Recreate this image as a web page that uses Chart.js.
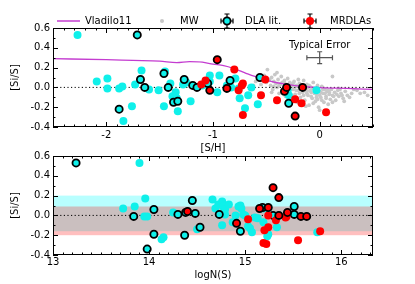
<!DOCTYPE html>
<html><head><meta charset="utf-8">
<script src="https://cdn.jsdelivr.net/npm/chart.js@4/dist/chart.umd.min.js"></script>
<style>
html,body{margin:0;padding:0;background:#fff;width:415px;height:284px;overflow:hidden;}
#c1{position:absolute;left:0;top:0;}
#c2{position:absolute;left:0;top:140px;}
</style>
</head><body>
<canvas id="c1" width="415" height="154"></canvas>
<canvas id="c2" width="415" height="144"></canvas>
<script>
// ---------- DATA ----------
const topXTicks = [-2, -1, 0];
const botXTicks = [13, 14, 15, 16];
const yTicks = [-0.4, -0.2, 0.0, 0.2, 0.4, 0.6];

const vladX = [-2.5, -2.0, -1.75, -1.5, -1.34, -1.22, -1.1, -1.0, -0.9, -0.81, -0.69, -0.56, -0.4, -0.3, -0.19, -0.1, 0.0, 0.25, 0.5];
const vladY = [0.29, 0.28, 0.272, 0.265, 0.25, 0.26, 0.255, 0.235, 0.22, 0.193, 0.142, 0.092, 0.047, 0.03, 0.014, 0.006, -0.003, -0.01, -0.02];

const mwSH = [-0.62,-0.60,-0.55,-0.55,-0.52,-0.50,-0.49,-0.47,-0.46,-0.45,-0.45,-0.44,-0.43,-0.42,-0.41,-0.40,-0.40,-0.39,-0.38,-0.37,-0.36,-0.35,-0.35,-0.34,-0.33,-0.32,-0.31,-0.30,-0.30,-0.29,-0.28,-0.28,-0.27,-0.26,-0.25,-0.25,-0.24,-0.23,-0.22,-0.22,-0.21,-0.20,-0.20,-0.19,-0.18,-0.18,-0.17,-0.16,-0.15,-0.15,-0.14,-0.13,-0.13,-0.12,-0.12,-0.11,-0.10,-0.10,-0.09,-0.08,-0.08,-0.07,-0.06,-0.06,-0.05,-0.05,-0.04,-0.03,-0.03,-0.02,-0.01,0.00,0.00,0.00,0.01,0.02,0.02,0.03,0.04,0.05,0.05,0.06,0.07,0.08,0.08,0.09,0.10,0.11,0.12,0.12,0.12,0.14,0.15,0.17,0.18,0.18,0.20,0.22,0.23,0.24,0.26,0.30,0.35,0.42,0.45,
  -0.48,-0.43,-0.38,-0.33,-0.31,-0.27,-0.24,-0.21,-0.19,-0.16,-0.14,-0.11,-0.09,-0.07,-0.04,-0.02,0.01,0.03,0.06,0.09,0.13,0.16,0.19,0.21,0.28,0.32,0.38,-0.26,-0.12,0.04];
const mwSiS = [0.02,0.06,0.03,0.10,0.12,0.05,0.18,0.08,0.02,0.10,-0.05,-0.02,0.06,0.13,0.04,0.00,0.15,0.08,-0.06,0.03,0.11,0.05,-0.05,-0.01,0.07,-0.09,0.03,0.09,-0.02,-0.04,0.05,-0.16,-0.12,0.01,-0.02,0.04,0.06,-0.07,0.02,-0.03,-0.15,-0.03,0.08,0.04,-0.10,0.03,0.00,-0.05,0.07,-0.08,-0.13,-0.02,-0.19,0.03,-0.04,-0.08,-0.18,0.02,0.01,-0.05,-0.09,-0.11,0.05,-0.16,-0.02,-0.06,-0.14,-0.07,-0.10,0.02,-0.20,-0.04,-0.08,-0.23,-0.10,0.01,-0.13,-0.06,-0.15,-0.02,-0.06,-0.09,-0.04,-0.17,-0.03,-0.07,-0.12,-0.02,-0.08,-0.15,0.11,-0.05,-0.13,-0.03,-0.09,-0.01,-0.06,-0.11,-0.14,-0.04,-0.08,-0.06,-0.03,-0.05,-0.08,
  0.07,0.01,0.02,0.04,-0.06,0.03,-0.01,0.01,-0.06,0.02,-0.03,0.00,-0.03,-0.01,-0.04,-0.12,-0.05,-0.02,-0.11,-0.05,-0.09,-0.07,-0.02,-0.08,-0.10,-0.02,-0.06,-0.08,-0.06,-0.01];

// DLA literature, no edge (top: [S/H] vs [Si/S])
const dlaSH = [-2.27,-2.09,-1.99,-1.99,-1.88,-1.85,-1.84,-1.73,-1.67,-1.76,-1.60,-1.51,-1.46,-1.45,-1.40,-1.38,-1.35,-1.34,-1.33,-1.28,-1.25,-1.21,-1.10,-1.03,-1.03,-0.96,-0.94,-0.87,-0.83,-0.79,-0.76,-0.75,-0.70,-0.67,-0.64,-0.58,-0.30,-0.29,-0.03];
const dlaSiS = [0.53,0.06,0.09,-0.01,-0.01,0.01,-0.34,0.03,0.17,-0.19,-0.02,-0.03,-0.19,0.16,0.04,-0.09,-0.05,-0.11,-0.24,0.03,0.05,-0.14,0.02,0.12,0.06,-0.05,0.12,0.02,0.00,0.09,-0.01,-0.11,-0.21,-0.08,0.00,-0.17,-0.03,-0.08,-0.03];
// DLA literature, black edge
const dlaeSH = [-1.71,-1.88,-1.68,-1.64,-1.46,-1.42,-1.37,-1.33,-1.27,-1.19,-1.15,-1.05,-0.84,-0.56,-0.29];
const dlaeSiS = [0.53,-0.22,0.08,0.00,0.14,0.00,-0.15,-0.14,0.08,0.02,0.00,0.04,0.07,0.10,-0.16];
// MRDLAs, no edge
const mrSH = [-1.11,-1.07,-0.80,-0.76,-0.73,-0.72,-0.72,-0.55,-0.51,-0.40,-0.23,-0.17,0.06];
const mrSiS = [0.03,0.07,0.18,-0.03,0.02,0.04,-0.28,-0.08,0.08,-0.13,-0.12,-0.16,-0.25];
// MRDLAs, black edge
const mreSH = [-1.03,-0.96,-0.87,-0.33,-0.31,-0.23,-0.16];
const mreSiS = [-0.03,0.28,-0.01,-0.04,0.00,-0.29,0.00];

// bottom panel: logN(S) vs [Si/S]
const dlaN = [13.90,13.96,13.73,13.85,13.95,13.98,14.13,14.15,14.25,14.50,14.66,14.69,14.72,14.76,14.77,14.79,14.83,14.76,14.79,14.87,14.93,14.96,14.95,14.98,15.05,15.07,15.03,15.10,15.19,15.19,15.23,15.24,15.33,15.75,14.90,15.00,15.13];
const dlaNSiS = [0.53,0.17,0.07,0.09,-0.01,-0.01,-0.24,-0.22,0.03,-0.14,0.16,0.07,0.11,0.14,0.09,0.06,0.11,-0.10,0.01,-0.07,0.09,0.07,0.10,0.01,-0.13,-0.17,-0.11,-0.02,0.07,-0.07,-0.21,-0.19,-0.12,-0.17,0.00,0.00,-0.03];
const dlaeN = [13.24,13.84,14.05,14.05,13.98,14.30,14.37,14.38,14.45,14.48,14.53,14.73,14.95,15.18,15.29,15.51,15.51];
const dlaeNSiS = [0.53,-0.01,0.06,-0.19,-0.34,0.01,-0.20,0.03,0.15,0.02,-0.12,0.01,-0.16,0.08,0.00,0.09,0.01];
const mrN = [15.03,15.24,15.32,15.42,15.43,15.20,15.24,15.19,15.22,15.55,15.78];
const mrNSiS = [-0.04,0.00,-0.05,-0.02,-0.01,-0.15,-0.12,-0.28,-0.29,-0.25,-0.16];
const mreN = [14.40,14.91,15.15,15.24,15.29,15.35,15.35,15.44,15.58,15.64];
const mreNSiS = [0.04,-0.08,0.07,0.08,0.28,0.18,0.00,0.03,-0.01,-0.01];

// shaded bands (bottom) : [low, high]
const dlaBand = [-0.16, 0.20];
const mrBand = [-0.20, 0.09];

// typical error
const errCenter = [0.0, 0.30];
const errSize = [0.12, 0.06];
const errLabelY = 0.42;

const legendLabels = ['Vladilo11', 'MW', 'DLA lit.', 'MRDLAs'];

// ---------- HELPERS ----------
const zip = (xs, ys) => xs.map((v, i) => ({x: v, y: ys[i]}));
const CYAN = '#0FF0EA', RED = '#FF0000', GRAY = '#C8C8C8', MAG = '#C43CD0';
Chart.defaults.font.family = 'DejaVu Sans';
Chart.defaults.font.size = 10;
Chart.defaults.color = '#000';

function fmtY(v){ return (v < 0 ? '-' : '') + Math.abs(v).toFixed(1); }

function frameTicksPlugin(xMinor, yMinor){
  return {
    id: 'frameTicks',
    afterDatasetsDraw(chart){
      const {ctx, chartArea: a, scales: {x, y}} = chart;
      ctx.save();
      ctx.strokeStyle = '#000'; ctx.lineWidth = 1;
      ctx.beginPath();
      const vx = (v, len) => { const p = Math.round(x.getPixelForValue(v)) + 0.5;
        ctx.moveTo(p, a.top); ctx.lineTo(p, a.top + len); ctx.moveTo(p, a.bottom); ctx.lineTo(p, a.bottom - len); };
      const vy = (v, len) => { const p = Math.round(y.getPixelForValue(v)) + 0.5;
        ctx.moveTo(a.left, p); ctx.lineTo(a.left + len, p); ctx.moveTo(a.right, p); ctx.lineTo(a.right - len, p); };
      for (let k = Math.ceil(x.min / xMinor - 1e-6); k * xMinor <= x.max + 1e-9; k++) vx(k * xMinor, 2.5);
      for (let k = Math.ceil(y.min / yMinor - 1e-6); k * yMinor <= y.max + 1e-9; k++) vy(k * yMinor, 2.5);
      x.ticks.forEach(t => vx(t.value, 5));
      y.ticks.forEach(t => vy(t.value, 5));
      ctx.stroke();
      ctx.strokeRect(Math.round(a.left) + 0.5, Math.round(a.top) + 0.5, Math.round(a.right - a.left) - 1, Math.round(a.bottom - a.top) - 1);
      ctx.restore();
    }
  };
}

function errMarker(ctx, cx, cy, fill, edge){
  ctx.save();
  ctx.strokeStyle = '#000'; ctx.lineWidth = 1.2;
  ctx.beginPath();
  ctx.moveTo(cx - 6, cy); ctx.lineTo(cx + 6, cy);
  ctx.moveTo(cx - 6, cy - 2.5); ctx.lineTo(cx - 6, cy + 2.5);
  ctx.moveTo(cx + 6, cy - 2.5); ctx.lineTo(cx + 6, cy + 2.5);
  ctx.moveTo(cx, cy - 7); ctx.lineTo(cx, cy + 7);
  ctx.moveTo(cx - 2.5, cy - 7); ctx.lineTo(cx + 2.5, cy - 7);
  ctx.moveTo(cx - 2.5, cy + 7); ctx.lineTo(cx + 2.5, cy + 7);
  ctx.stroke();
  ctx.beginPath(); ctx.arc(cx, cy, edge ? 3.6 : 4, 0, Math.PI * 2);
  ctx.fillStyle = fill; ctx.fill();
  if (edge){ ctx.lineWidth = 1.8; ctx.stroke(); }
  ctx.restore();
}

const legendPlugin = {
  id: 'customLegend',
  afterDraw(chart){
    const ctx = chart.ctx; const y = 21;
    ctx.save();
    ctx.font = '10px "DejaVu Sans"'; ctx.fillStyle = '#000'; ctx.textBaseline = 'middle'; ctx.textAlign = 'left';
    ctx.strokeStyle = MAG; ctx.lineWidth = 1.5;
    ctx.beginPath(); ctx.moveTo(57, y); ctx.lineTo(80, y); ctx.stroke();
    ctx.fillText(legendLabels[0], 85, y);
    ctx.fillStyle = GRAY; ctx.beginPath(); ctx.arc(162, y, 2, 0, Math.PI * 2); ctx.fill();
    ctx.fillStyle = '#000'; ctx.fillText(legendLabels[1], 180, y);
    errMarker(ctx, 227, y, CYAN, true);
    ctx.fillStyle = '#000'; ctx.fillText(legendLabels[2], 245, y);
    errMarker(ctx, 310, y, RED, false);
    ctx.fillStyle = '#000'; ctx.fillText(legendLabels[3], 330, y);
    ctx.restore();
  }
};

const typicalErrorPlugin = {
  id: 'typErr',
  afterDatasetsDraw(chart){
    const {ctx, scales: {x, y}} = chart;
    const cx = x.getPixelForValue(errCenter[0]), cy = y.getPixelForValue(errCenter[1]);
    const x0 = x.getPixelForValue(errCenter[0] - errSize[0]), x1 = x.getPixelForValue(errCenter[0] + errSize[0]);
    const y0 = y.getPixelForValue(errCenter[1] - errSize[1]), y1 = y.getPixelForValue(errCenter[1] + errSize[1]);
    ctx.save();
    ctx.strokeStyle = '#555'; ctx.lineWidth = 1.2;
    ctx.beginPath();
    ctx.moveTo(x0, cy); ctx.lineTo(x1, cy);
    ctx.moveTo(x0, cy - 2.5); ctx.lineTo(x0, cy + 2.5);
    ctx.moveTo(x1, cy - 2.5); ctx.lineTo(x1, cy + 2.5);
    ctx.moveTo(cx, y0); ctx.lineTo(cx, y1);
    ctx.moveTo(cx - 2.5, y0); ctx.lineTo(cx + 2.5, y0);
    ctx.moveTo(cx - 2.5, y1); ctx.lineTo(cx + 2.5, y1);
    ctx.stroke();
    ctx.font = '10px "DejaVu Sans"'; ctx.fillStyle = '#000'; ctx.textAlign = 'center'; ctx.textBaseline = 'middle';
    ctx.fillText('Typical Error', cx, y.getPixelForValue(errLabelY));
    ctx.restore();
  }
};

const bandPlugin = {
  id: 'bands',
  beforeDatasetsDraw(chart){
    const {ctx, chartArea: a, scales: {y}} = chart;
    ctx.save();
    const band = (b, col) => { const yt = y.getPixelForValue(b[1]), yb = y.getPixelForValue(b[0]);
      ctx.fillStyle = col; ctx.fillRect(a.left, yt, a.right - a.left, yb - yt); };
    band(dlaBand, 'rgba(0,255,255,0.28)');
    band(mrBand, 'rgba(255,0,0,0.25)');
    ctx.restore();
  }
};

function yScale(titlePadTop){
  return {
    min: -0.4, max: 0.6,
    afterBuildTicks: s => { s.ticks = yTicks.map(v => ({value: v})); },
    afterFit: s => { s.width = 53; },
    grid: {display: false, drawTicks: false},
    border: {display: false},
    ticks: {padding: 3, callback: v => fmtY(v), font: {size: 10}},
    title: {display: true, text: '[Si/S]', padding: {top: titlePadTop, bottom: 0}, font: {size: 10}}
  };
}

function pts(data, color, edge, order, r){
  return {type: 'scatter', data, order, pointRadius: r || (edge ? 3.6 : 4), pointHoverRadius: r || 4,
    backgroundColor: color, borderColor: edge ? '#000' : color, borderWidth: edge ? 1.8 : 0, showLine: false};
}

function zeroLine(x0, x1){
  return {type: 'line', data: [{x: x0, y: 0}, {x: x1, y: 0}], order: 9, borderColor: '#000', borderWidth: 1,
    borderDash: [1.2, 2.4], pointRadius: 0, showLine: true, fill: false};
}

// ---------- TOP CHART ----------
new Chart(document.getElementById('c1'), {
  type: 'scatter',
  data: {
    datasets: [
      pts(zip(mwSH, mwSiS), GRAY, false, 10, 1.9),
      zeroLine(-2.5, 0.5),
      {type: 'line', data: zip(vladX, vladY), order: 8, borderColor: MAG, borderWidth: 1.3, pointRadius: 0, showLine: true, fill: false, cubicInterpolationMode: 'monotone'},
      pts(zip(dlaSH, dlaSiS), CYAN, false, 4),
      pts(zip(dlaeSH, dlaeSiS), CYAN, true, 3),
      pts(zip(mrSH, mrSiS), RED, false, 2),
      pts(zip(mreSH, mreSiS), RED, true, 1)
    ]
  },
  options: {
    responsive: false, animation: false, devicePixelRatio: 1,
    layout: {padding: {top: 28, left: 0, right: 42, bottom: 0}},
    plugins: {legend: {display: false}, tooltip: {enabled: false}},
    scales: {
      x: {
        type: 'linear', min: -2.5, max: 0.5,
        afterBuildTicks: s => { s.ticks = topXTicks.map(v => ({value: v})); },
        afterFit: s => { s.height = 27; },
        grid: {display: false, drawTicks: false}, border: {display: false},
        ticks: {padding: 2, callback: v => (v < 0 ? '-' : '') + Math.abs(v), maxRotation: 0},
        title: {display: true, text: '[S/H]', padding: {top: 0, bottom: 0}}
      },
      y: yScale(9)
    }
  },
  plugins: [frameTicksPlugin(0.1, 0.1), legendPlugin, typicalErrorPlugin]
});

// ---------- BOTTOM CHART ----------
new Chart(document.getElementById('c2'), {
  type: 'scatter',
  data: {
    datasets: [
      zeroLine(13, 16.33),
      pts(zip(dlaN, dlaNSiS), CYAN, false, 4),
      pts(zip(dlaeN, dlaeNSiS), CYAN, true, 3),
      pts(zip(mrN, mrNSiS), RED, false, 2),
      pts(zip(mreN, mreNSiS), RED, true, 1)
    ]
  },
  options: {
    responsive: false, animation: false, devicePixelRatio: 1,
    layout: {padding: {top: 16, left: 0, right: 42, bottom: 0}},
    plugins: {legend: {display: false}, tooltip: {enabled: false}},
    scales: {
      x: {
        type: 'linear', min: 13, max: 16.33,
        afterBuildTicks: s => { s.ticks = botXTicks.map(v => ({value: v})); },
        afterFit: s => { s.height = 29; },
        grid: {display: false, drawTicks: false}, border: {display: false},
        ticks: {padding: 1, callback: v => String(v), maxRotation: 0},
        title: {display: true, text: 'logN(S)', padding: {top: 0, bottom: 3}}
      },
      y: yScale(9)
    }
  },
  plugins: [bandPlugin, frameTicksPlugin(0.1, 0.1)]
});
</script>
</body></html>
